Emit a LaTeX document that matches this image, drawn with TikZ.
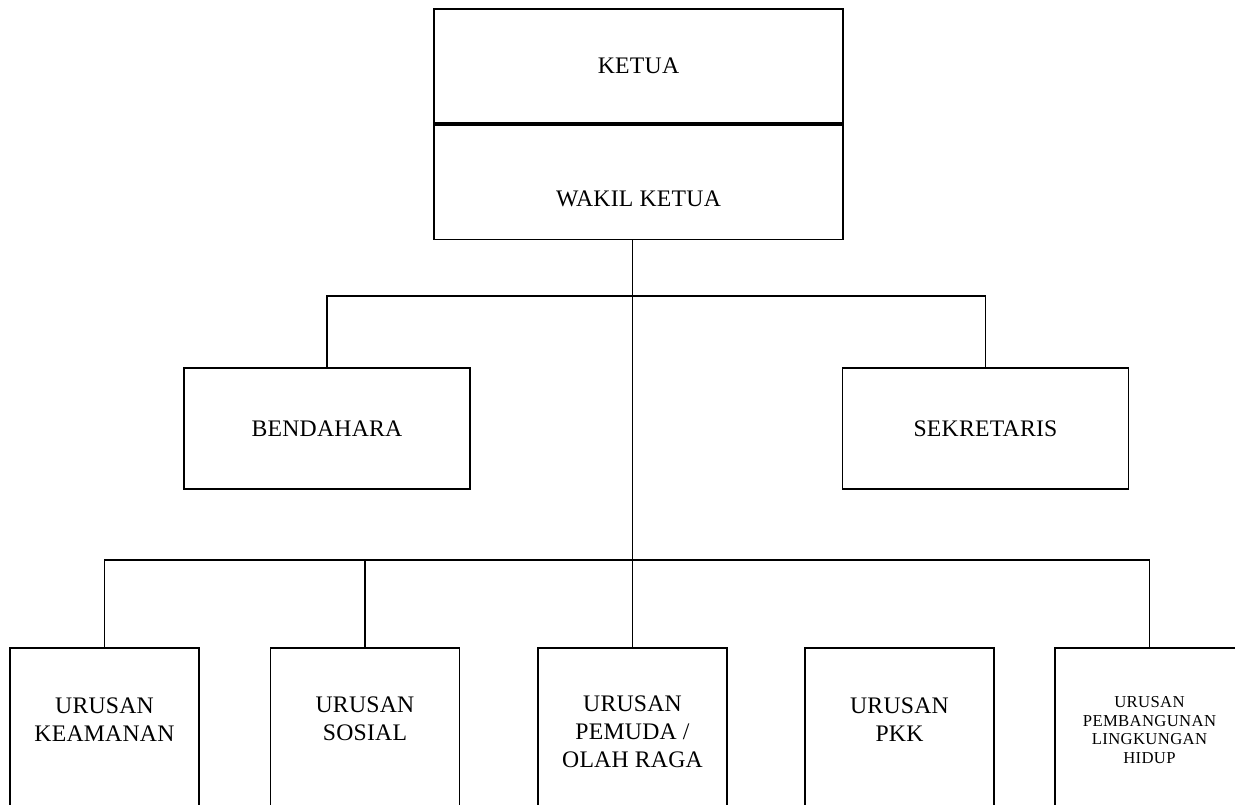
\documentclass[tikz,border=0pt]{standalone}
\usepackage{fontspec}
\usepackage{tikz}
\newfontfamily\orgfont[LetterSpace=1]{Liberation Serif}
\newfontfamily\orgsmall[LetterSpace=2]{Liberation Serif}

\begin{document}
\begin{tikzpicture}[x=0.02cm, y=-0.02cm, line width=0.9pt,%
        every node/.style={font=\orgfont\fontsize{13.5}{16}\selectfont, align=center},
        box/.style={draw, minimum width=5.72cm, minimum height=2.42cm},
        topbox/.style={draw, minimum width=8.18cm, minimum height=2.29cm},
        urusan/.style={draw, anchor=north, minimum width=3.78cm, minimum height=3.6cm}]
        \useasboundingbox (0,0) rectangle (1235,805);
        % ketua / wakil ketua
        \node[topbox] (ketua) at (638.5,66) {KETUA};
        \node[topbox, anchor=north] (wakil) at (ketua.south) {};
        \node (wakiltext) at ([yshift=-0.34cm]wakil.center) {WAKIL KETUA};
        % bendahara, sekretaris
        \node[box] (bendahara) at (327,428.5) {BENDAHARA};
        \node[box] (sekretaris) at (985.5,428.5) {SEKRETARIS};
        % urusan
        \node[urusan] (keamanan) at (104.5,647) {};
        \node[urusan] (sosial) at (365,647) {};
        \node[urusan] (pemuda) at (632.5,647) {};
        \node[urusan] (pkk) at (899.5,647) {};
        \node[urusan] (pembangunan) at (1149.5,647) {};
        \node (keamanantext) at (104.5,720) {URUSAN\\KEAMANAN};
        \node (sosialtext) at (365,719) {URUSAN\\SOSIAL};
        \node (pemudatext) at (632.5,732) {URUSAN\\PEMUDA /\\OLAH RAGA};
        \node (pkktext) at (899.5,720) {URUSAN\\PKK};
        \node[font=\orgsmall\fontsize{9.5}{10.5}\selectfont] (pembangunantext) at (1149.5,730)
                {URUSAN\\PEMBANGUNAN\\LINGKUNGAN\\HIDUP};
        % connectors
        \coordinate (bustop) at (632.5,296);
        \coordinate (busbottom) at (632.5,560);
        \draw (wakil.south -| pemuda.north) -- (pemuda.north);
        \draw (bendahara.north) |- (bustop) -| (sekretaris.north);
        \draw (keamanan.north) |- (busbottom) -| (pembangunan.north);
        \draw (sosial.north) -- (sosial.north |- busbottom);
    \end{tikzpicture}
\end{document}
